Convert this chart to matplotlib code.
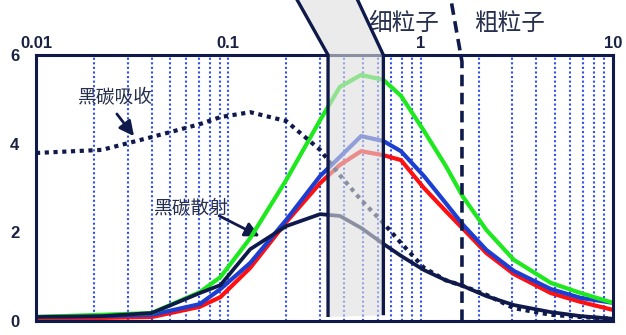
import matplotlib
matplotlib.use("Agg")
import matplotlib.pyplot as plt
from matplotlib.patches import Polygon

plt.rcParams['font.family'] = ['Noto Sans CJK SC', 'DejaVu Sans']

# particle diameter (um)
size_um = [0.01, 0.022, 0.04, 0.071, 0.091, 0.13, 0.2, 0.3, 0.38, 0.49,
           0.64, 0.79, 1.04, 1.35, 1.66, 2.2, 3.05, 4.75, 6.8, 10]
green_vals = [0.09, 0.14, 0.18, 0.65, 0.99, 1.87, 3.18, 4.53, 5.28, 5.55,
              5.44, 5.08, 4.29, 3.50, 2.80, 2.05, 1.38, 0.86, 0.63, 0.41]
blue_vals = [0.09, 0.11, 0.14, 0.38, 0.72, 1.31, 2.28, 3.27, 3.70, 4.17,
             4.06, 3.83, 3.27, 2.66, 2.17, 1.60, 1.13, 0.72, 0.52, 0.41]
red_vals = [0.07, 0.07, 0.09, 0.32, 0.54, 1.20, 2.23, 3.11, 3.52, 3.83,
            3.74, 3.63, 3.00, 2.48, 2.08, 1.53, 1.06, 0.63, 0.43, 0.25]
bc_scatter = [0.09, 0.11, 0.18, 0.63, 0.81, 1.62, 2.14, 2.41, 2.37, 2.10,
              1.74, 1.47, 1.15, 0.92, 0.79, 0.56, 0.36, 0.20, 0.11, 0.05]
bc_absorb = [3.79, 3.86, 4.15, 4.44, 4.60, 4.71, 4.51, 3.86, 3.29, 2.73,
             2.21, 1.76, 1.20, 0.92, 0.79, 0.59, 0.29, 0.14, 0.09, 0.05]

x_ticks = [0.01, 0.1, 1, 10]
x_tick_labels = ["0.01", "0.1", "1", "10"]
y_ticks = [0, 2, 4, 6]
y_tick_labels = ["0", "2", "4", "6"]

# size range highlighted by the shaded band and the fine/coarse cut
band_lo, band_hi = 0.33, 0.64
cut_size = 1.64

NAVY = "#0f1a4a"
TEXT = "#26304e"
GRID = "#3050f0"

fig = plt.figure(figsize=(6.26, 3.35), dpi=100)
ax = fig.add_axes([0.0575, 0.0418, 0.9217, 0.7940])
ax.set_xscale("log")
ax.set_xlim(0.01, 10)
ax.set_ylim(0, 6)

# dotted vertical grid on the log minor positions
grid_pos = [k * 10.0 ** e for e in (-2, -1, 0) for k in range(2, 10)] + [0.1, 1]
for g in grid_pos:
    ax.axvline(g, color=GRID, lw=1.5, ls=(0, (1, 1.2)), zorder=1)

ax.plot(size_um, red_vals, color="#ff1010", lw=3.0, zorder=3, solid_joinstyle="round")
ax.plot(size_um, blue_vals, color="#1c3fd2", lw=3.0, zorder=3.1, solid_joinstyle="round")
ax.plot(size_um, green_vals, color="#1ee81e", lw=3.0, zorder=3.2, solid_joinstyle="round")
ax.plot(size_um, bc_absorb, color=NAVY, lw=3.0, ls=(0, (1, 1.1)),
        dash_capstyle="butt", zorder=3.3)
ax.plot(size_um, bc_scatter, color=NAVY, lw=2.7, zorder=3.4, solid_joinstyle="round")

# shaded size band, continuing as a slanted strip above the frame
band = [(band_lo, 0.09), (band_lo, 6.0), (0.205, 7.6), (0.43, 7.6),
        (band_hi, 6.0), (band_hi, 0.13)]
ax.add_patch(Polygon(band, closed=False, facecolor=(0.87, 0.87, 0.87, 0.6),
                     edgecolor="none", zorder=4, clip_on=False))
ax.add_patch(Polygon(band, closed=False, facecolor="none", edgecolor=NAVY,
                     lw=2.4, zorder=4.1, clip_on=False, joinstyle="miter"))

# fine / coarse boundary
ax.plot([cut_size, cut_size, 1.39], [0, 5.85, 7.6], color=NAVY, lw=2.6,
        ls=(0, (3.2, 1.8)), zorder=4.2, clip_on=False)

ax.text(0.815, 6.72, "细粒子", fontsize=17, color=TEXT, ha="center", va="center")
ax.text(2.91, 6.72, "粗粒子", fontsize=17, color=TEXT, ha="center", va="center")

ax.text(0.0258, 5.03, "黑碳吸收", fontsize=13.5, color=TEXT, ha="center", va="center")
ax.annotate("", xy=(0.0330, 4.12), xytext=(0.0258, 4.72),
            arrowprops=dict(arrowstyle="-|>", color=NAVY, lw=2, mutation_scale=22))
ax.text(0.0642, 2.55, "黑碳散射", fontsize=13.5, color=TEXT, ha="center", va="center")
ax.annotate("", xy=(0.150, 1.88), xytext=(0.087, 2.40),
            arrowprops=dict(arrowstyle="-|>", color=NAVY, lw=2, mutation_scale=22))

for s in ax.spines.values():
    s.set_color(NAVY)
    s.set_linewidth(2.2)
    s.set_zorder(3.5)

ax.xaxis.tick_top()
ax.set_xticks(x_ticks)
ax.set_xticklabels(x_tick_labels)
ax.set_xticks([], minor=True)
ax.set_yticks(y_ticks)
ax.set_yticklabels(y_tick_labels)
for lab in ax.get_xticklabels() + ax.get_yticklabels():
    lab.set_family(["Liberation Sans", "DejaVu Sans"])
    lab.set_fontweight("bold")
    lab.set_color("#1a2244")
    lab.set_fontsize(12)
ax.tick_params(axis="x", length=0, pad=3)
ax.tick_params(axis="y", length=0, pad=12)

fig.savefig("out.png", dpi=100)
